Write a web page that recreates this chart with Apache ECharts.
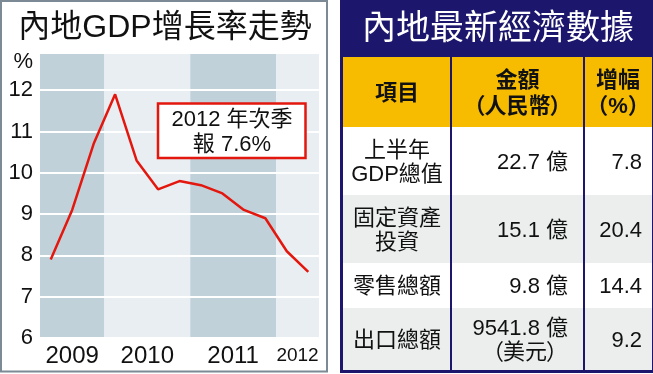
<!DOCTYPE html>
<html><head><meta charset="utf-8">
<script src="https://cdn.jsdelivr.net/npm/echarts@6/dist/echarts.min.js"></script>
<style>html,body{margin:0;padding:0;background:#fff}#c{width:653px;height:374px}</style>
</head><body><div id="c"></div>
<script>
// ---- data ----
const quarters = ['2009Q2','2009Q3','2009Q4','2010Q1','2010Q2','2010Q3','2010Q4','2011Q1','2011Q2','2011Q3','2011Q4','2012Q1','2012Q2'];
const gdpGrowth = [7.9, 9.1, 10.7, 11.9, 10.3, 9.6, 9.8, 9.7, 9.5, 9.1, 8.9, 8.1, 7.6];
const years = ['2009', '2010', '2011', '2012'];
const quartersPerYear = [3, 4, 4, 2];
const yUnit = '%';
const leftTitle = '內地GDP增長率走勢';
const rightTitle = '內地最新經濟數據';
const annotationLines = ['2012 年次季', '報 7.6%'];
const tableHeaders = [['項目'], ['金額', '（人民幣）'], ['增幅', '（%）']];
const tableItems = [['上半年', 'GDP總值'], ['固定資產', '投資'], ['零售總額'], ['出口總額']];
const tableAmounts = [['22.7 億'], ['15.1 億'], ['9.8 億'], ['9541.8 億', '（美元）']];
const tableGrowth = [['7.8'], ['20.4'], ['14.4'], ['9.2']];

// ---- layout / style ----
const FONT = '"Liberation Sans", Arial, "Noto Sans CJK TC", sans-serif';
const NAVY = '#1c176c';
const bandColors = ['#c1d1d9', '#e8eef2'];
const bounds = [0];
quartersPerYear.forEach(q => bounds.push(bounds[bounds.length - 1] + q));

const markAreaData = years.map((y, i) => [
  {
    xAxis: bounds[i], name: y,
    itemStyle: { color: bandColors[i % 2] },
    label: i === years.length - 1
      ? { fontSize: 19, lineHeight: 19, distance: 8, fontFamily: '"Liberation Sans Narrow", ' + FONT }
      : {}
  },
  { xAxis: bounds[i + 1] }
]);

const g = [];
// left frame
g.push({ type: 'rect', z: 50, shape: { x: 1, y: 1, width: 326, height: 370.5 },
  style: { fill: 'none', stroke: '#7b8a95', lineWidth: 2 } });
g.push({ type: 'text', z: 50, x: 165, y: 28,
  style: { text: leftTitle, fontSize: 32, fontFamily: FONT, fill: '#111', align: 'center', verticalAlign: 'middle' } });
g.push({ type: 'text', z: 50, x: 33, y: 62,
  style: { text: yUnit, fontSize: 22, fontFamily: FONT, fill: '#111', align: 'right', verticalAlign: 'middle' } });
// annotation
g.push({ type: 'rect', z: 60, shape: { x: 158, y: 103.5, width: 147.5, height: 54.5 },
  style: { fill: '#fff', stroke: '#e4170f', lineWidth: 2.5 } });
annotationLines.forEach((t, i) => g.push({ type: 'text', z: 61, x: 232, y: 120 + i * 25,
  style: { text: t, fontSize: 22, fontFamily: FONT, fill: '#111', align: 'center', verticalAlign: 'middle' } }));

// right panel
g.push({ type: 'rect', z: 40, shape: { x: 340, y: 0, width: 313, height: 373 }, style: { fill: NAVY } });
g.push({ type: 'text', z: 41, x: 498, y: 30,
  style: { text: rightTitle, fontSize: 34, fontFamily: FONT, fill: '#fff', align: 'center', verticalAlign: 'middle' } });
const colX = [343, 451, 584, 652];
const rowY = [57, 127, 195, 263, 308, 370];
const rowFill = ['#f7bc00', '#ffffff', '#eceeee', '#ffffff', '#eceeee'];
for (let r = 0; r < rowY.length - 1; r++) {
  g.push({ type: 'rect', z: 41, shape: { x: colX[0], y: rowY[r], width: colX[3] - colX[0], height: rowY[r + 1] - rowY[r] },
    style: { fill: rowFill[r] } });
}
[1, 2].forEach(c => g.push({ type: 'rect', z: 42,
  shape: { x: colX[c] - 1, y: rowY[0], width: 2, height: rowY[rowY.length - 1] - rowY[0] }, style: { fill: NAVY } }));

function cellText(lines, r, c, align, bold, lineGap) {
  const cy = (rowY[r] + rowY[r + 1]) / 2 + 1.5;
  const n = lines.length;
  let x;
  if (align === 'center') x = (colX[c] + colX[c + 1]) / 2;
  else x = colX[c + 1] - (c === 1 ? 16 : 10);
  lines.forEach((t, i) => {
    const style = { text: t, fontSize: 22, fontWeight: bold ? 'bold' : 'normal', fontFamily: FONT, fill: '#111',
      align: align, verticalAlign: 'middle' };
    // wide full-width brackets around CJK words
    if (t.charAt(0) === '（' && t.length > 3) {
      const inner = t.slice(1, -1);
      style.text = '{lp|（}' + inner + '{rp|）}';
      const base = { fontSize: 22, fontWeight: style.fontWeight, fontFamily: FONT, fill: '#111' };
      style.rich = {
        lp: Object.assign({ width: 21, align: 'left' }, base),
        rp: Object.assign({ width: 21, align: 'right' }, base)
      };
    }
    g.push({ type: 'text', z: 43, x: x, y: cy + (i - (n - 1) / 2) * lineGap, style: style });
  });
}
tableHeaders.forEach((lines, c) => cellText(lines, 0, c, 'center', true, 26));
tableItems.forEach((lines, r) => cellText(lines, r + 1, 0, 'center', false, 24));
tableAmounts.forEach((lines, r) => cellText(lines, r + 1, 1, 'right', false, 24));
tableGrowth.forEach((lines, r) => cellText(lines, r + 1, 2, 'right', false, 24));

const chart = echarts.init(document.getElementById('c'));
chart.setOption({
  animation: false,
  backgroundColor: '#fff',
  grid: { left: 40, right: 334, top: 53, bottom: 36 },
  xAxis: [
    { type: 'category', data: quarters, boundaryGap: true, show: false },
    { type: 'value', min: 0, max: bounds[bounds.length - 1], show: false }
  ],
  yAxis: {
    type: 'value', min: 6, max: 12.9, interval: 1, z: 2,
    axisLine: { show: false }, axisTick: { show: false },
    axisLabel: { showMaxLabel: false, fontSize: 22, color: '#111', margin: 7, fontFamily: FONT },
    splitLine: { lineStyle: { color: '#ffffff', width: 2 } }
  },
  series: [
    {
      type: 'line', xAxisIndex: 1, data: [], silent: true, z: 1,
      markArea: {
        silent: true,
        label: { show: true, position: 'bottom', distance: 6, fontSize: 24, lineHeight: 24, color: '#111', fontFamily: FONT },
        data: markAreaData
      }
    },
    {
      type: 'line', data: gdpGrowth, symbol: 'none', z: 5, silent: true,
      lineStyle: { color: '#e4170f', width: 2.5 }
    }
  ],
  graphic: { elements: g }
});
</script>
</body></html>
